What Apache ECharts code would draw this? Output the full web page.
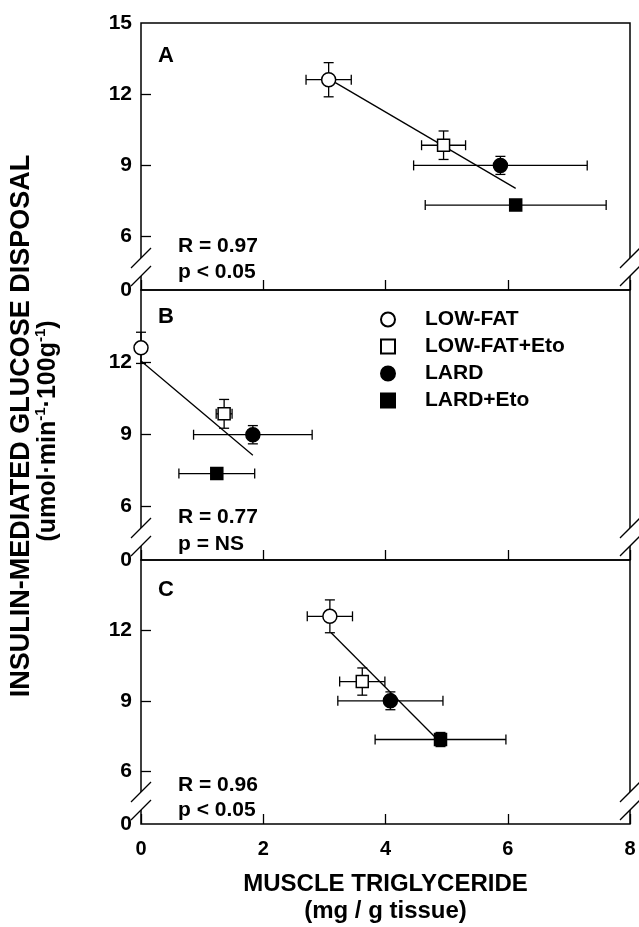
<!DOCTYPE html>
<html>
<head>
<meta charset="utf-8">
<script src="https://cdn.jsdelivr.net/npm/echarts@6.0.0/dist/echarts.min.js"></script>
<style>
  html, body { margin: 0; padding: 0; background: #fff; }
  #main { width: 639px; height: 927px; }
</style>
</head>
<body>
<div id="main"></div>
<script>
// groups (legend order)
const groups = ['LOW-FAT', 'LOW-FAT+Eto', 'LARD', 'LARD+Eto'];
const xTicks = [0, 2, 4, 6, 8];
const yTicks = [6, 9, 12, 15];
const yBottom = 3.75; // value at the broken axis bottom, labelled "0"

// panel A
const aX = [3.07, 4.95, 5.88, 6.13];
const aY = [12.61, 9.85, 9.0, 7.33];
const aXErr = [0.37, 0.36, 1.42, 1.48];
const aYErr = [0.72, 0.60, 0.38, 0.2];
const aFit = [[3.18, 12.49], [6.13, 8.03]];

// panel B
const bX = [0, 1.36, 1.83, 1.24];
const bY = [12.59, 9.84, 8.97, 7.35];
const bXErr = [0, 0.13, 0.97, 0.62];
const bYErr = [0.65, 0.60, 0.38, 0.2];
const bFit = [[0, 12.04], [1.83, 8.11]];

// panel C
const cX = [3.09, 3.62, 4.08, 4.90];
const cY = [12.60, 9.82, 9.0, 7.35];
const cXErr = [0.37, 0.37, 0.86, 1.07];
const cYErr = [0.70, 0.58, 0.38, 0.3];
const cFit = [[3.11, 11.9], [4.85, 7.35]];

const panelNames = ['A', 'B', 'C'];
const panelR = ['R = 0.97', 'R = 0.77', 'R = 0.96'];
const panelP = ['p < 0.05', 'p = NS', 'p < 0.05'];

const panels = [
    { x: aX, y: aY, xe: aXErr, ye: aYErr, fit: aFit },
    { x: bX, y: bY, xe: bXErr, ye: bYErr, fit: bFit },
    { x: cX, y: cY, xe: cXErr, ye: cYErr, fit: cFit }
];

const FONT = '"Liberation Sans", Arial, sans-serif';
const gridTops = [23, 290, 560];
const gridHeights = [267, 270, 264];
const symbols = ['circle', 'rect', 'circle', 'rect'];
const fills = ['#fff', '#fff', '#000', '#000'];
const sizes = [14, 12, 14, 12];

var myChart = echarts.init(document.getElementById('main'));

function errorBars(params, api) {
    const x = api.value(0), y = api.value(1);
    const ex = api.value(2), ey = api.value(3);
    const cap = 5;
    const st = { stroke: '#000', lineWidth: 1.3 };
    const kids = [];
    const seg = (x1, y1, x2, y2) => kids.push({ type: 'line', shape: { x1, y1, x2, y2 }, style: st });
    if (ex > 0) {
        const l = api.coord([x - ex, y]), r = api.coord([x + ex, y]);
        seg(l[0], l[1], r[0], r[1]);
        seg(l[0], l[1] - cap, l[0], l[1] + cap);
        seg(r[0], r[1] - cap, r[0], r[1] + cap);
    }
    if (ey > 0) {
        const t = api.coord([x, y + ey]), b = api.coord([x, y - ey]);
        seg(t[0], t[1], b[0], b[1]);
        seg(t[0] - cap, t[1], t[0] + cap, t[1]);
        seg(b[0] - cap, b[1], b[0] + cap, b[1]);
    }
    return { type: 'group', children: kids };
}

const grids = [], xAxes = [], yAxes = [], series = [];
panels.forEach((p, i) => {
    const last = i === panels.length - 1;
    grids.push({
        left: 141, right: 9, top: gridTops[i], height: gridHeights[i],
        show: true, borderColor: '#000', borderWidth: 1.5, backgroundColor: 'transparent'
    });
    xAxes.push({
        gridIndex: i, type: 'value', min: 0, max: 8, interval: 2,
        axisLine: { show: false },
        axisTick: { show: true, inside: true, length: 10, lineStyle: { color: '#000', width: 1.3 } },
        axisLabel: {
            show: last, margin: 15, color: '#000',
            fontFamily: FONT, fontWeight: 'bold', fontSize: 20
        },
        splitLine: { show: false },
        name: last ? 'MUSCLE TRIGLYCERIDE\n(mg / g tissue)' : '',
        nameLocation: 'middle', nameGap: 47,
        nameTextStyle: { color: '#000', fontFamily: FONT, fontWeight: 'bold', fontSize: 24, lineHeight: 27 }
    });
    const labelVals = i === 0 ? [yBottom].concat(yTicks) : [yBottom].concat(yTicks.slice(0, 3));
    yAxes.push({
        gridIndex: i, type: 'value', min: yBottom, max: 15,
        axisLine: { show: false },
        axisTick: { show: true, inside: true, length: 10, customValues: yTicks.slice(0, 3),
            lineStyle: { color: '#000', width: 1.3 } },
        axisLabel: {
            customValues: labelVals, margin: 9, color: '#000',
            fontFamily: FONT, fontWeight: 'bold', fontSize: 21,
            formatter: v => (Math.abs(v - yBottom) < 1e-6 ? '0' : String(v))
        },
        splitLine: { show: false }
    });
    series.push({
        type: 'line', xAxisIndex: i, yAxisIndex: i, data: p.fit,
        symbol: 'none', silent: true, z: 2,
        lineStyle: { color: '#000', width: 1.3 }
    });
    series.push({
        type: 'custom', xAxisIndex: i, yAxisIndex: i, clip: false, z: 3,
        renderItem: errorBars,
        encode: { x: 0, y: 1 },
        data: p.x.map((v, k) => [v, p.y[k], p.xe[k], p.ye[k]])
    });
    groups.forEach((g, k) => {
        series.push({
            name: g, type: 'scatter', xAxisIndex: i, yAxisIndex: i, z: 5, clip: false,
            symbol: symbols[k], symbolSize: sizes[k],
            itemStyle: { color: fills[k], borderColor: '#000', borderWidth: 1.5, opacity: 1 },
            data: [[p.x[k], p.y[k]]]
        });
    });
});

const option = {
    backgroundColor: '#fff',
    animation: false,
    grid: grids,
    xAxis: xAxes,
    yAxis: yAxes,
    legend: {
        data: groups.map(g => ({ name: g })),
        orient: 'vertical', left: 375, top: 304,
        itemWidth: 14, itemHeight: 14, itemGap: 6,
        selectedMode: false,
        textStyle: { color: '#000', fontFamily: FONT, fontWeight: 'bold', fontSize: 21,
            lineHeight: 20, padding: [0, 0, 0, 25] }
    },
    series: series
};
myChart.setOption(option);

// texts and axis break marks
const txtStyle = (size) => ({ fill: '#000', font: 'bold ' + size + 'px ' + FONT });
const graphics = [];
const letterY = [56, 317, 590];
const rY = [246, 517, 785];
const pY = [272, 544, 810];
panels.forEach((p, i) => {
    graphics.push({ type: 'text', x: 158, y: letterY[i], z: 100,
        style: Object.assign(txtStyle(22), { text: panelNames[i], verticalAlign: 'middle' }) });
    graphics.push({ type: 'text', x: 178, y: rY[i], z: 100,
        style: Object.assign(txtStyle(21), { text: panelR[i], verticalAlign: 'middle' }) });
    graphics.push({ type: 'text', x: 178, y: pY[i], z: 100,
        style: Object.assign(txtStyle(21), { text: panelP[i], verticalAlign: 'middle' }) });

    const bl = myChart.convertToPixel({ gridIndex: i }, [0, yBottom]);
    const br = myChart.convertToPixel({ gridIndex: i }, [8, yBottom]);
    const up = bl[1] - 32, lo = bl[1] - 14;
    [bl[0], br[0]].forEach(xx => {
        graphics.push({ type: 'rect', z: 100, shape: { x: xx - 3, y: up, width: 6, height: lo - up },
            style: { fill: '#fff' } });
        [up, lo].forEach(cy => {
            graphics.push({ type: 'line', z: 101,
                shape: { x1: xx - 10, y1: cy + 10, x2: xx + 10, y2: cy - 10 },
                style: { stroke: '#000', lineWidth: 1.3 } });
        });
    });
});
graphics.push({ type: 'text', x: 22, y: 426, rotation: Math.PI / 2, z: 100,
    style: Object.assign(txtStyle(27), { text: 'INSULIN-MEDIATED GLUCOSE DISPOSAL',
        align: 'center', verticalAlign: 'middle' }) });
graphics.push({ type: 'text', x: 48, y: 431, rotation: Math.PI / 2, z: 100,
    style: {
        text: '{a|(umol·min}{s|-1}{a|·100g}{s|-1}{a|)}',
        align: 'center', verticalAlign: 'middle', fill: '#000',
        rich: {
            a: { font: 'bold 25px ' + FONT, lineHeight: 30, fill: '#000' },
            s: { font: 'bold 15px ' + FONT, lineHeight: 17, verticalAlign: 'top', fill: '#000' }
        }
    } });
myChart.setOption({ graphic: graphics });

window.addEventListener('resize', () => {
    myChart && myChart.resize();
});
</script>
</body>
</html>
